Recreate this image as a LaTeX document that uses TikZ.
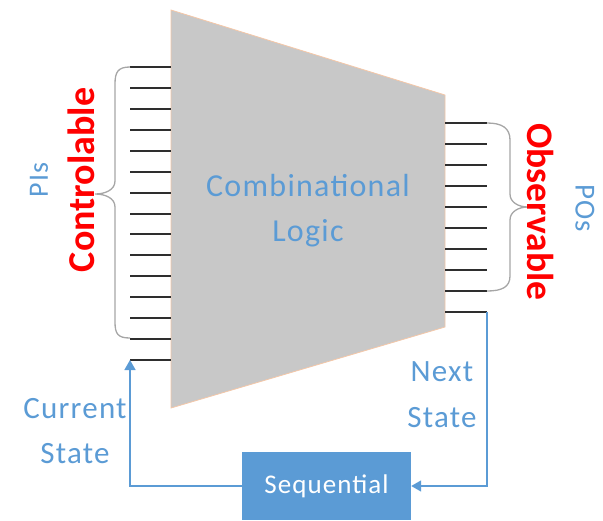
\documentclass[tikz,border=0pt]{standalone}
\usepackage{fontspec}
\setmainfont{Carlito}
\newfontfamily\spacedfont[LetterSpace=4]{Carlito}
\usetikzlibrary{arrows.meta}
\definecolor{logicgrey}{HTML}{C8C8C8}
\definecolor{edgepeach}{HTML}{F4C7A8}
\definecolor{accent}{HTML}{5B9BD5}
\definecolor{bracegrey}{HTML}{A6A6A6}
\definecolor{wire}{HTML}{2E2E2E}
\begin{document}
\begin{tikzpicture}[x=1pt,y=-1pt,
  pin/.style={draw=wire,line width=2pt},
  brace/.style={draw=bracegrey,line width=1.3pt},
  flow/.style={draw=accent,line width=1.6pt,-{Triangle[width=11pt,length=10pt]}},
  label/.style={text=accent,font=\spacedfont\fontsize{28}{40}\selectfont,inner sep=0pt},
  hot/.style={text=red,font=\bfseries\fontsize{38}{40}\selectfont,inner sep=0pt},
  seqbox/.style={fill=accent,text=white,font=\spacedfont\fontsize{27}{30}\selectfont,
    minimum width=169pt,minimum height=68pt,inner sep=0pt}]
\useasboundingbox (0,0) rectangle (603,520);

% combinational block
\filldraw[fill=logicgrey,draw=edgepeach,line width=0.8pt]
  (171,10) -- (445,95) -- (445,327) -- (171,408) -- cycle;
\node[label,align=center,font=\spacedfont\fontsize{32}{45}\selectfont] (logic) at (308,211)
  {Combinational\\Logic};

% input and output pins
\foreach \i in {0,...,14}
  \draw[pin] (130,{67+20.93*\i}) -- (171,{67+20.93*\i});
\foreach \i in {0,...,9}
  \draw[pin] (445,{123+21*\i}) -- (487,{123+21*\i});
\coordinate (csin) at (130,360);
\coordinate (nsout) at (487,312);

% braces
\draw[brace] (130,67) .. controls (118,67) and (115,72) .. (115,84) -- (115,181)
  .. controls (115,190) and (105,194) .. (95,194)
  .. controls (105,194) and (115,198) .. (115,207) -- (115,322)
  .. controls (115,334) and (118,338) .. (130,338);
\draw[brace] (487,123) .. controls (502,123) and (510,128) .. (510,140) -- (510,194)
  .. controls (510,202) and (518,207) .. (528,207)
  .. controls (518,207) and (510,212) .. (510,220) -- (510,276)
  .. controls (510,287) and (502,291) .. (487,291);

% side labels
\node[label,rotate=90] (pis) at (39,180) {PIs};
\node[hot,rotate=90] (ctrl) at (81,180) {Controlable};
\node[hot,rotate=-90,font=\bfseries\fontsize{37.5}{40}\selectfont] (obs) at (541,212) {Observable};
\node[label,rotate=-90,font=\spacedfont\fontsize{29}{40}\selectfont] (pos) at (585,208) {POs};

% state feedback
\node[seqbox] (seq) at (326.5,486) {Sequential};
\draw[flow] (seq.west) -| (csin);
\draw[flow] (nsout) |- (seq.east);
\node[label,align=center,font=\spacedfont\fontsize{31}{45}\selectfont] (cur) at (75,431) {Current\\State};
\node[label,align=center,font=\spacedfont\fontsize{31}{46}\selectfont] (nxt) at (442,395) {Next\\State};
\end{tikzpicture}
\end{document}
